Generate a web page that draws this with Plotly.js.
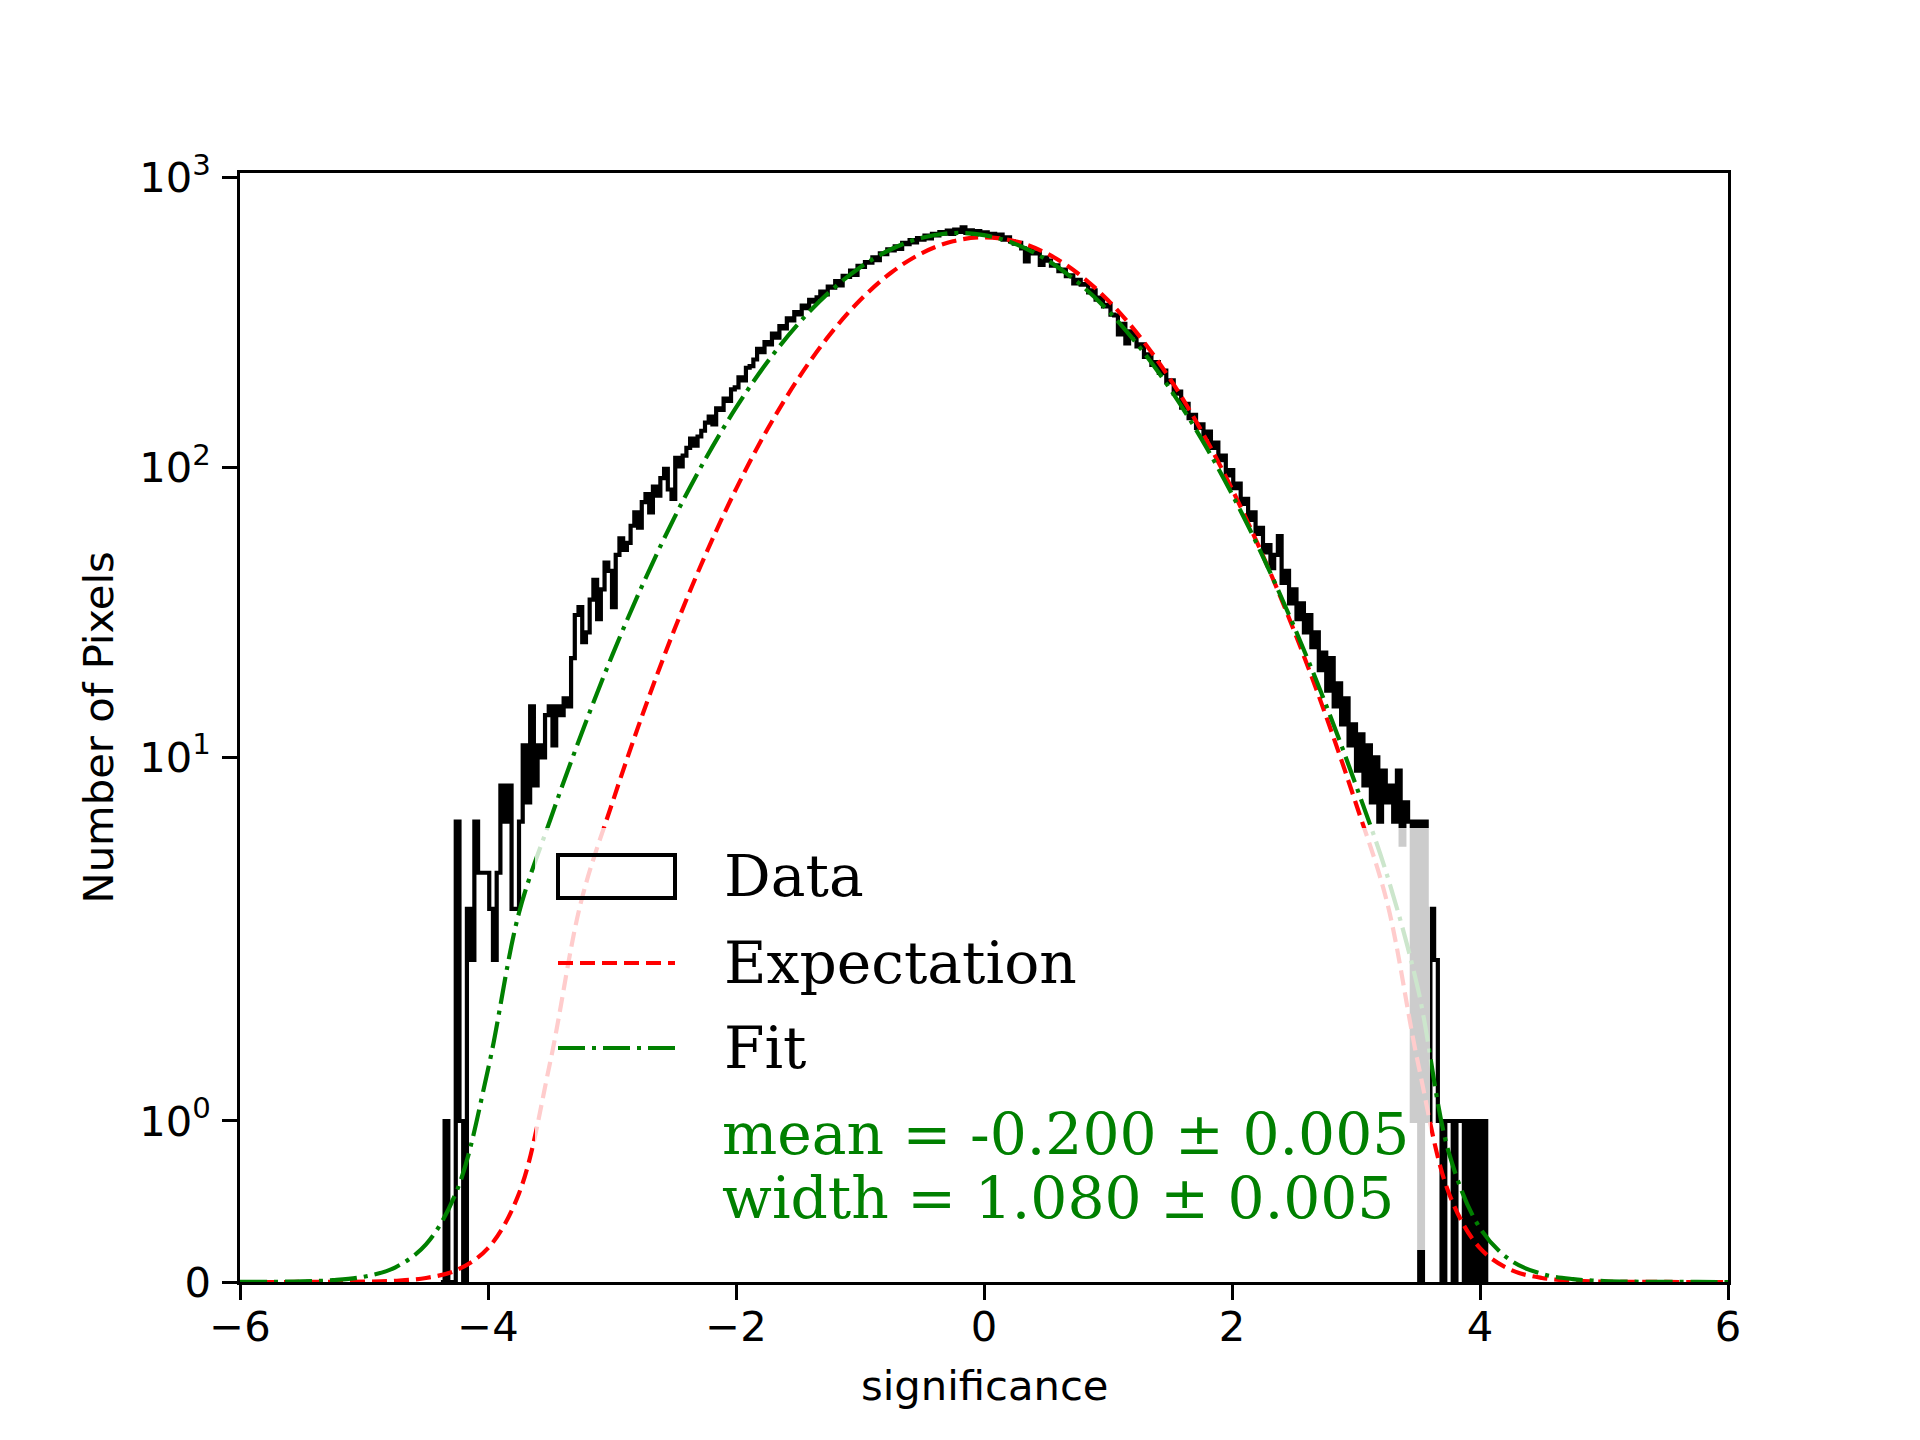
<!DOCTYPE html>
<html>
<head>
<meta charset="utf-8">
<script src="https://cdn.plot.ly/plotly-3.0.1.min.js"></script>
<style>body{margin:0;background:#fff}</style>
</head>
<body>
<div id="graphDiv" style="width:1920px;height:1440px"></div>
<script>
// histogram of pixel significance, step outline, fixed bin width
var binStart = -4.38;
var binWidth = 0.03;
var binCounts = [
    0, 1, 0, 0, 6, 1, 0, 3, 2, 6, 4, 4, 4, 3, 2, 4, 8, 6, 8, 3,
    3, 6, 11, 7, 15, 8, 11, 10, 14, 15, 11, 15, 14, 16, 15,
    22, 31, 33, 25, 27, 35, 41, 30, 38, 47,
    44, 33, 50, 57, 52, 55, 63, 70, 62, 76,
    81, 70, 86, 80, 92, 99, 84, 78, 108, 101,
    110, 117, 126, 119, 128, 134, 143, 150, 141, 160,
    158, 173, 170, 186, 189, 205, 200, 221, 224, 236,
    257, 250, 271, 266, 290, 281, 308, 302, 327, 322,
    344, 338, 362, 355, 379, 374, 387, 405, 396, 421,
    418, 440, 425, 459, 455, 478, 462, 497, 493, 512,
    509, 531, 520, 549, 545, 566, 561, 580, 568, 596,
    590, 609, 598, 619, 612, 631, 618, 640, 633, 650,
    641, 657, 640, 662, 650, 675, 645, 659, 636, 654,
    640, 648, 628, 641, 624, 636, 612, 623, 603, 592,
    596, 571, 515, 566, 548, 553, 500, 530, 518, 497,
    499, 476, 482, 458, 461, 432, 444, 428, 430, 402,
    409, 380, 386, 360, 364, 337, 335, 288, 313, 268,
    295, 286, 262, 266, 241, 246, 226, 231, 212, 216,
    197, 200, 180, 183, 161, 166, 148, 152, 137, 141,
    127, 133, 117, 122, 106, 110, 94, 98, 85, 88,
    75, 78, 66, 70, 59, 62, 51, 54, 45, 50,
    58, 40, 44, 34, 38, 30, 34, 27, 31, 24,
    27, 20, 23, 17, 22, 15, 18, 13, 16, 11,
    13, 9, 12, 8, 11, 7, 10, 6, 9, 7,
    8, 6, 9, 5, 7, 6, 1, 6, 0, 6,
    1, 3, 2, 1, 0, 1, 1, 0, 1, 1,
    0, 1, 0, 1, 0, 1
];

var curveX = [-6, -5.75, -5.5, -5.25, -5, -4.75, -4.5, -4.25, -4, -3.75, -3.5, -3.25,
    -3, -2.75, -2.5, -2.25, -2, -1.75, -1.5, -1.25, -1, -0.75, -0.5, -0.25,
    0, 0.25, 0.5, 0.75, 1, 1.25, 1.5, 1.75, 2, 2.25, 2.5, 2.75,
    3, 3.25, 3.5, 3.75, 4, 4.25, 4.5, 4.75, 5, 5.25, 5.5, 5.75, 6];
var expectationY = [0.00001, 0.00004, 0.00017, 0.00064, 0.0023, 0.0079, 0.025, 0.075, 0.21, 0.55, 1.36, 3.17,
    6.92, 14.2, 27.4, 49.6, 84.3, 134.8, 202.3, 285.2, 377.9, 470.2, 549.8, 603.8,
    623, 603.8, 549.8, 470.2, 377.9, 285.2, 202.3, 134.8, 84.3, 49.6, 27.4, 14.2,
    6.92, 3.17, 1.36, 0.55, 0.21, 0.075, 0.025, 0.0079, 0.0023, 0.00064, 0.00017, 0.00004, 0.00001];
var fitY = [0.0004, 0.0012, 0.0038, 0.0116, 0.033, 0.090, 0.234, 0.57, 1.32, 2.91, 6.06, 11.95,
    22.4, 39.7, 66.8, 106.4, 160.9, 230.3, 312.6, 402.1, 490.3, 566.6, 620.6, 644.3,
    634.0, 591.4, 522.8, 438.1, 347.9, 261.9, 186.9, 126.4, 81.0, 49.2, 28.3, 15.5,
    8.0, 3.93, 1.82, 0.80, 0.335, 0.133, 0.050, 0.018, 0.006, 0.0019, 0.0006, 0.0002, 0.0001];

var xTickValues = [-6, -4, -2, 0, 2, 4, 6];
var xTickLabels = ['\u22126', '\u22124', '\u22122', '0', '2', '4', '6'];
var yTickValues = [0, 1, 10, 100, 1000];
var yTickLabels = ['0', '10<sup>0</sup>', '10<sup>1</sup>', '10<sup>2</sup>', '10<sup>3</sup>'];

var legendLabels = ['Data', 'Expectation', 'Fit'];
var fitLines = ['mean = -0.200 \u00b1 0.005', 'width = 1.080 \u00b1 0.005'];

// matplotlib style symlog, linthresh 2, linscale 1
var linThresh = 2;
var linScale = 1 / (1 - 1 / 10);
function symlog(v) {
    if (Math.abs(v) <= linThresh) return v * linScale;
    return Math.sign(v) * linThresh * (linScale + Math.log10(Math.abs(v) / linThresh));
}

// plot area in pixels, for placing the hand-made legend
var plotL = 240, plotR = 1728, plotT = 173, plotB = 1282;
function px(x) { return (x - plotL) / (plotR - plotL); }
function py(y) { return (plotB - y) / (plotB - plotT); }

var stepX = [binStart], stepY = [0];
for (var i = 0; i < binCounts.length; i++) {
    stepX.push(binStart + i * binWidth);
    stepY.push(symlog(binCounts[i]));
}
stepX.push(binStart + binCounts.length * binWidth);
stepY.push(0);

var histTrace = {
    type: 'scatter', mode: 'lines', x: stepX, y: stepY,
    line: {color: 'black', width: 4.2, shape: 'hv'},
    hoverinfo: 'skip'
};
var expTrace = {
    type: 'scatter', mode: 'lines', x: curveX, y: expectationY.map(symlog),
    line: {color: '#ff0000', width: 4.2, dash: '15px,7px', shape: 'spline', smoothing: 1}
};
var fitTrace = {
    type: 'scatter', mode: 'lines', x: curveX, y: fitY.map(symlog),
    line: {color: '#008000', width: 4.2, dash: '27px,7px,4px,7px', shape: 'spline', smoothing: 1}
};

var tickFont = {family: 'DejaVu Sans', size: 41.7, color: 'black'};
var serif = {family: 'DejaVu Serif', size: 58.3, color: 'black'};

var shapes = [
    {type: 'rect', xref: 'paper', yref: 'paper', layer: 'above',
        x0: px(535), x1: px(1430), y0: py(1250), y1: py(828),
        fillcolor: 'rgba(255,255,255,0.8)', line: {width: 0}},
    {type: 'rect', xref: 'paper', yref: 'paper', layer: 'above',
        x0: px(558), x1: px(675), y0: py(898), y1: py(855),
        fillcolor: 'rgba(0,0,0,0)', line: {color: 'black', width: 4}},
    {type: 'line', xref: 'paper', yref: 'paper', layer: 'above',
        x0: px(558), x1: px(675), y0: py(963), y1: py(963),
        line: {color: '#ff0000', width: 4.2, dash: '15px,7px'}},
    {type: 'line', xref: 'paper', yref: 'paper', layer: 'above',
        x0: px(558), x1: px(675), y0: py(1048), y1: py(1048),
        line: {color: '#008000', width: 4.2, dash: '27px,7px,4px,7px'}}
];

var legendRows = [876, 963, 1048];
var annotations = [];
for (var k = 0; k < legendLabels.length; k++) {
    annotations.push({xref: 'paper', yref: 'paper', x: px(722), y: py(legendRows[k]),
        xanchor: 'left', yanchor: 'middle', showarrow: false, text: legendLabels[k], font: serif});
}
var fitRows = [1134, 1198];
for (var k = 0; k < fitLines.length; k++) {
    annotations.push({xref: 'paper', yref: 'paper', x: px(720), y: py(fitRows[k]),
        xanchor: 'left', yanchor: 'middle', showarrow: false, text: fitLines[k],
        font: {family: 'DejaVu Serif', size: 58.3, color: '#008000'}});
}
// axis titles
annotations.push({xref: 'paper', yref: 'paper', x: 0.5, y: py(1385),
    xanchor: 'center', yanchor: 'middle', showarrow: false, text: 'significance', font: tickFont});
annotations.push({xref: 'paper', yref: 'paper', x: px(98), y: 0.5, textangle: -90,
    xanchor: 'center', yanchor: 'middle', showarrow: false, text: 'Number of Pixels', font: tickFont});

var layout = {
    width: 1920, height: 1440,
    margin: {l: 240, r: 192, t: 173, b: 158, pad: 0},
    paper_bgcolor: 'white', plot_bgcolor: 'white',
    showlegend: false,
    font: {family: 'DejaVu Sans', color: 'black'},
    xaxis: {
        range: [-6, 6], tickmode: 'array', tickvals: xTickValues, ticktext: xTickLabels,
        ticks: 'outside', ticklen: 14.6, tickwidth: 3.3, tickcolor: 'black',
        showline: true, linewidth: 3.3, linecolor: 'black', mirror: true,
        showgrid: false, zeroline: false, tickfont: tickFont, ticklabelstandoff: -9
    },
    yaxis: {
        range: [0, 7.653], tickmode: 'array', tickvals: yTickValues.map(symlog), ticktext: yTickLabels,
        ticks: 'outside', ticklen: 14.6, tickwidth: 3.3, tickcolor: 'black',
        showline: true, linewidth: 3.3, linecolor: 'black', mirror: true,
        showgrid: false, zeroline: false, tickfont: tickFont, ticklabelstandoff: 3
    },
    shapes: shapes,
    annotations: annotations
};

Plotly.newPlot('graphDiv', [histTrace, expTrace, fitTrace], layout, {displayModeBar: false});
</script>
</body>
</html>
